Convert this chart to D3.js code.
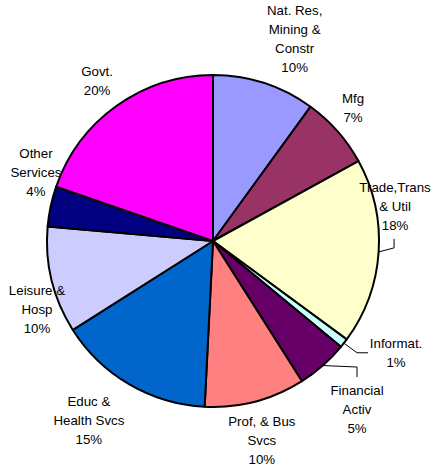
<!DOCTYPE html>
<html><head><meta charset="utf-8">
<script src="https://cdn.jsdelivr.net/npm/d3@7"></script>
<style>body{margin:0;background:#fff}svg{display:block}</style>
</head><body>
<script>
// ---- data ----
const categories = ["Nat. Res, Mining & Constr","Mfg","Trade,Trans & Util","Informat.","Financial Activ","Prof, & Bus Svcs","Educ & Health Svcs","Leisure & Hosp","Other Services","Govt."];
const labelLines = [["Nat. Res,","Mining &","Constr"],["Mfg"],["Trade,Trans","& Util"],["Informat."],["Financial","Activ"],["Prof, & Bus","Svcs"],["Educ &","Health Svcs"],["Leisure &","Hosp"],["Other","Services"],["Govt."]];
const values = [10.0, 7.0, 18.1, 0.9, 5.0, 9.8, 15.2, 10.4, 3.9, 19.7];
const pctLabels = ["10%","7%","18%","1%","5%","10%","15%","10%","4%","20%"];
const colors = ["#9999FF","#993366","#FFFFCC","#CCFFFF","#660066","#FF8080","#0066CC","#CCCCFF","#000080","#FF00FF"];

// ---- layout ----
const W=433,H=474,cx=213,cy=241,R=166,labelR=206,lineH=19,fs=13.3;
const nudge=[[18,-6],[-14.5,3.2],[-23.5,-48.7],[20.7,-15],[7.8,13.5],[-3.6,0],[-20.4,1.7],[24.1,19.2],[24.4,-25.8],[3.6,7.7]];
const leaders={2:[[-1,42],[-1,33]],3:[[-39,0],[-28,0]],4:[[0,-42],[0,-32]]};

const svg=d3.select("body").append("svg").attr("width",W).attr("height",H);
const g=svg.append("g").attr("transform",`translate(${cx},${cy})`);
const pie=d3.pie().sort(null).value(d=>d);
const arcs=pie(values);
const arc=d3.arc().innerRadius(0).outerRadius(R);

g.selectAll("path.slice").data(arcs).join("path").attr("class","slice")
 .attr("d",arc).attr("fill",(d,i)=>colors[i]).attr("stroke","#000").attr("stroke-width",2).attr("stroke-linejoin","round");

const font="Liberation Sans, Arial, sans-serif";
arcs.forEach((d,i)=>{
  const a=(d.startAngle+d.endAngle)/2;
  const lx=labelR*Math.sin(a)+nudge[i][0], ly=-labelR*Math.cos(a)+nudge[i][1];
  const lines=labelLines[i].concat([pctLabels[i]]);
  const n=lines.length;
  const t=g.append("text").attr("font-family",font).attr("font-size",fs).attr("fill","#000").attr("text-anchor","middle");
  lines.forEach((s,k)=>{
    t.append("tspan").attr("x",lx).attr("y",ly+(k-(n-1)/2)*lineH).attr("dy","0.35em").text(s);
  });
  if(leaders[i]){
    const ex=R*Math.sin(a), ey=-R*Math.cos(a);
    const pts=[[ex,ey]].concat(leaders[i].map(p=>[lx+p[0],ly+p[1]]));
    g.append("path").attr("d",d3.line()(pts)).attr("fill","none").attr("stroke","#000").attr("stroke-width",1);
  }
});
</script>
</body></html>
